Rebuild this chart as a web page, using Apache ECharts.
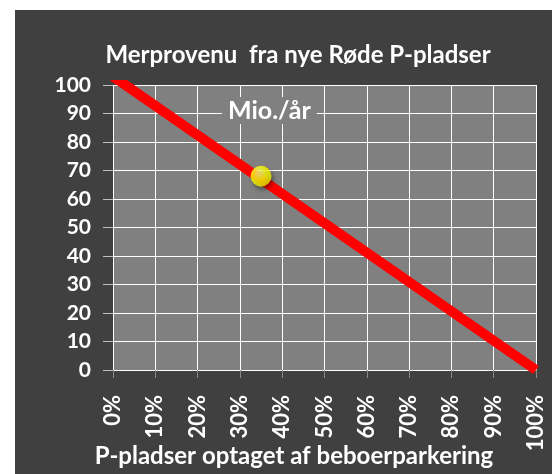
<!DOCTYPE html>
<html>
<head>
<meta charset="utf-8">
<script src="https://cdn.jsdelivr.net/npm/echarts@6/dist/echarts.min.js"></script>
<style>
  html, body { margin: 0; padding: 0; background: #fff; }
  #panel { position: absolute; left: 15px; top: 10px; width: 537px; height: 464px; background: #404040; }
  #main { position: absolute; left: 0; top: 0; width: 552px; height: 474px; }
</style>
</head>
<body>
<div id="panel"></div>
<div id="main"></div>
<script>
// linje: merprovenu (mio./år) mod andel optaget af beboerparkering
const lineData = [[0, 103], [1, 0]];
// nuvaerende punkt
const pointData = [[0.35, 68]];
const yTicks = [0, 10, 20, 30, 40, 50, 60, 70, 80, 90, 100];

const font = 'Lato';
const txt = (size) => ({ color: '#fff', fontFamily: font, fontWeight: 'bold', fontSize: size });

let chart = echarts.init(document.getElementById('main'));
chart.setOption({
    animation: false,
    title: [{
        text: 'Merprovenu  fra nye Røde P-pladser',
        left: 293, top: 38, textAlign: 'center',
        textStyle: txt(24)
    }, {
        text: 'Mio./år',
        left: 222, top: 97,
        backgroundColor: '#808080',
        padding: [1, 6, 1, 6],
        textStyle: txt(25)
    }, {
        // x-aksens titel
        text: 'P-pladser optaget af beboerparkering',
        left: 294, top: 444, textAlign: 'center', padding: 0,
        textStyle: txt(24)
    }],
    grid: {
        left: 113, right: 16, top: 85, bottom: 104,
        outerBoundsMode: 'none', containLabel: false,
        show: true, backgroundColor: '#808080', borderWidth: 0
    },
    xAxis: {
        type: 'value', min: 0, max: 1, interval: 0.1,
        axisLine: { show: false },
        axisTick: { show: true, length: 8, lineStyle: { color: '#8a8a8a' } },
        axisLabel: Object.assign(txt(22), {
            rotate: 90, margin: 25,
            formatter: v => Math.round(v * 100) + '%'
        }),
        splitLine: { lineStyle: { color: '#fff', width: 1 } }
    },
    yAxis: {
        type: 'value', min: yTicks[0], max: yTicks[yTicks.length - 1], interval: 10,
        axisLine: { show: false },
        axisTick: { show: true, length: 10, lineStyle: { color: '#c0c0c0' } },
        axisLabel: Object.assign(txt(21), { margin: 22 }),
        splitLine: { lineStyle: { color: '#fff', width: 1 } }
    },
    series: [{
        type: 'line',
        data: lineData,
        clip: true,
        symbol: 'none',
        lineStyle: { color: '#ff0000', width: 10, cap: 'butt' },
        z: 2
    }, {
        type: 'scatter',
        data: pointData,
        symbol: 'circle',
        symbolSize: 21,
        itemStyle: {
            color: new echarts.graphic.RadialGradient(0.4, 0.35, 0.7, [
                { offset: 0, color: '#ffff90' },
                { offset: 0.5, color: '#ffff00' },
                { offset: 1, color: '#e0e000' }
            ]),
            shadowColor: 'rgba(0,0,0,0.5)', shadowBlur: 4, shadowOffsetX: 2, shadowOffsetY: 3
        },
        z: 3
    }]
});
window.addEventListener('resize', () => {
    chart.resize();
});
</script>
</body>
</html>
